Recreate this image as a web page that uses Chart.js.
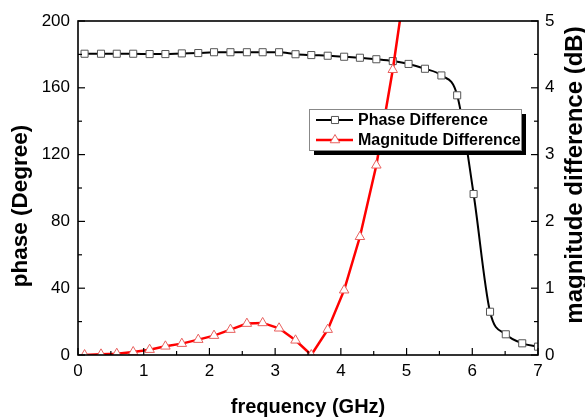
<!DOCTYPE html>
<html>
<head>
<meta charset="utf-8">
<script src="https://cdn.jsdelivr.net/npm/chart.js@4/dist/chart.umd.min.js"></script>
<style>
  html, body { margin: 0; padding: 0; background: #fff; }
  #wrap { width: 585px; height: 419px; }
</style>
</head>
<body>
<div id="wrap"><canvas id="c"></canvas></div>
<script>
// frequency points (GHz)
const freq = [0.10, 0.35, 0.59, 0.84, 1.09, 1.33, 1.58, 1.83, 2.07, 2.32,
              2.57, 2.81, 3.06, 3.31, 3.55, 3.80, 4.05, 4.29, 4.54, 4.79,
              5.03, 5.28, 5.53, 5.77, 6.02, 6.27, 6.51, 6.76, 7.00];
// phase difference (degree), left axis
const phaseDeg = [180.4, 180.4, 180.4, 180.4, 180.2, 180.2, 180.6, 180.8, 181.3, 181.3,
                  181.3, 181.3, 181.3, 180.1, 179.6, 179.2, 178.6, 178.0, 177.1, 176.0,
                  174.3, 171.4, 167.4, 155.5, 96.4, 25.9, 12.4, 7.0, 5.0];
// magnitude difference (dB), right axis (runs off the top after ~4.9 GHz)
const magDb = [0.0, 0.01, 0.02, 0.045, 0.08, 0.13, 0.17, 0.23, 0.29, 0.38,
               0.47, 0.48, 0.40, 0.22, 0.0, 0.38, 0.97, 1.77, 2.84, 4.27, 5.9];

const seriesLabels = ["Phase Difference", "Magnitude Difference"];
const xTitle = "frequency (GHz)";
const yTitle = "phase (Degree)";
const y2Title = "magnitude difference (dB)";

const FONT = "'Liberation Sans', Arial, Helvetica, sans-serif";

// inward major/minor ticks + frame box
const frameTicks = {
  id: "frameTicks",
  afterDatasetsDraw(chart) {
    const { ctx, chartArea: a, scales } = chart;
    ctx.save();
    ctx.strokeStyle = "#000";
    const line = (x1, y1, x2, y2) => { ctx.beginPath(); ctx.moveTo(x1, y1); ctx.lineTo(x2, y2); ctx.stroke(); };
    const marks = (scale, fn) => {
      const vals = scale.ticks.map(t => t.value);
      vals.forEach((v, i) => {
        fn(scale.getPixelForValue(v), 7);
        if (i < vals.length - 1) fn(scale.getPixelForValue((v + vals[i + 1]) / 2), 4);
      });
    };
    ctx.lineWidth = 1.2;
    marks(scales.x, (p, len) => line(p, a.bottom, p, a.bottom - len));
    marks(scales.y, (p, len) => line(a.left, p, a.left + len, p));
    marks(scales.y2, (p, len) => line(a.right, p, a.right - len, p));
    ctx.lineWidth = 1.6;
    ctx.strokeRect(a.left, a.top, a.right - a.left, a.bottom - a.top);
    ctx.restore();
  }
};

// boxed legend with drop shadow, plus both vertical axis titles (read bottom-up)
const boxLegend = {
  id: "boxLegend",
  afterDraw(chart) {
    const { ctx } = chart;
    const L = 309, T = 109, W = 212, H = 41;
    ctx.save();
    ctx.fillStyle = "#000";
    ctx.fillRect(L + 5, T + 5, W, H);
    ctx.fillStyle = "#fff";
    ctx.fillRect(L, T, W, H);
    ctx.strokeStyle = "#888";
    ctx.lineWidth = 1;
    ctx.strokeRect(L + 0.5, T + 0.5, W, H);
    chart.data.datasets.forEach((ds, i) => {
      const y = T + 11 + i * 20;
      ctx.strokeStyle = ds.borderColor;
      ctx.lineWidth = ds.borderWidth;
      ctx.beginPath(); ctx.moveTo(L + 7, y); ctx.lineTo(L + 44, y); ctx.stroke();
      ctx.fillStyle = ds.pointBackgroundColor;
      ctx.strokeStyle = ds.pointBorderColor;
      ctx.lineWidth = ds.pointBorderWidth;
      Chart.helpers.drawPoint(ctx, { pointStyle: ds.pointStyle, radius: ds.pointRadius, rotation: 0, borderWidth: ds.pointBorderWidth }, L + 26, y);
      ctx.fillStyle = "#000";
      ctx.font = "bold 16px " + FONT;
      ctx.textBaseline = "middle";
      ctx.textAlign = "left";
      ctx.fillText(ds.label, L + 49, y + 1);
    });
    ctx.restore();

    const vTitle = (text, x, y, size) => {
      ctx.save();
      ctx.translate(x, y);
      ctx.rotate(-Math.PI / 2);
      ctx.font = "bold " + size + "px " + FONT;
      ctx.textAlign = "center";
      ctx.textBaseline = "middle";
      ctx.fillStyle = "#000";
      ctx.fillText(text, 0, 0);
      ctx.restore();
    };
    vTitle(yTitle, 21, 206, 22.5);
    vTitle(y2Title, 575, 175, 24);
  }
};

const tickFont = { family: FONT, size: 17 };
const titleFont = { family: FONT, size: 20, weight: "bold" };

new Chart(document.getElementById("c"), {
  type: "line",
  data: {
    datasets: [
      {
        label: seriesLabels[0],
        data: freq.map((f, i) => ({ x: f, y: phaseDeg[i] })),
        yAxisID: "y",
        order: 1,
        borderColor: "#000",
        borderWidth: 2,
        cubicInterpolationMode: "monotone",
        pointStyle: "rect",
        pointRadius: 5,
        pointBackgroundColor: "#fff",
        pointBorderColor: "#555",
        pointBorderWidth: 1
      },
      {
        label: seriesLabels[1],
        data: magDb.map((m, i) => ({ x: freq[i], y: m })),
        yAxisID: "y2",
        order: 0,
        borderColor: "#ff0000",
        borderWidth: 2.5,
        tension: 0,
        pointStyle: "triangle",
        pointRadius: 5.5,
        pointBackgroundColor: "#fff",
        pointBorderColor: "#e8605e",
        pointBorderWidth: 1
      }
    ]
  },
  options: {
    responsive: true,
    maintainAspectRatio: false,
    animation: false,
    layout: { padding: { top: 21, left: 0, right: 0, bottom: 0 } },
    plugins: { legend: { display: false }, tooltip: { enabled: false } },
    scales: {
      x: {
        type: "linear", min: 0, max: 7,
        ticks: { stepSize: 1, color: "#000", font: tickFont, padding: 6 },
        grid: { display: false, drawTicks: false },
        border: { display: false },
        title: { display: true, text: xTitle, color: "#000", font: titleFont, padding: { top: 0, bottom: 0 } },
        afterFit: s => { s.height = 64; }
      },
      y: {
        position: "left", min: 0, max: 200,
        ticks: { stepSize: 40, color: "#000", font: tickFont, padding: 8 },
        grid: { display: false, drawTicks: false },
        border: { display: false },
        afterFit: s => { s.width = 78; }
      },
      y2: {
        position: "right", min: 0, max: 5,
        ticks: { stepSize: 1, color: "#000", font: tickFont, padding: 7 },
        grid: { display: false, drawTicks: false },
        border: { display: false },
        afterFit: s => { s.width = 47; }
      }
    }
  },
  plugins: [frameTicks, boxLegend]
});
</script>
</body>
</html>
